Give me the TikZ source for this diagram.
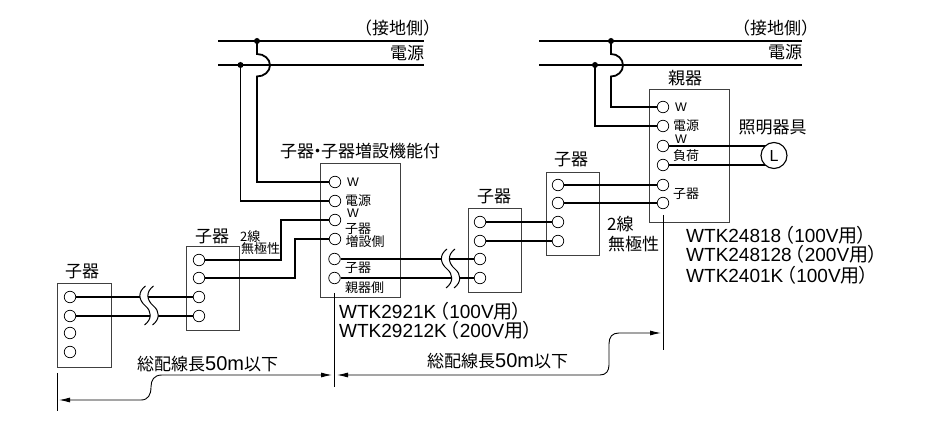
\documentclass[tikz,border=0pt]{standalone}
\usepackage{fontspec}
\setmainfont{Liberation Sans}
\newfontfamily\jp{Noto Sans CJK JP}
\usetikzlibrary{arrows.meta}
\tikzset{
	box/.style={rectangle,draw=black!75,line width=0.9,inner sep=0},
	term/.style={circle,draw,fill=white,line width=0.7,minimum size=11.5,inner sep=0},
	dotj/.style={circle,fill,minimum size=6,inner sep=0},
	wire/.style={line width=1.8},
	tick/.style={line width=0.9},
	dim/.style={line width=0.9,{Latex[length=11,width=5]}-{Latex[length=11,width=5]}},
	big/.style={inner sep=0,font=\jp\fontsize{17}{17}\selectfont},
	tiny/.style={inner sep=0,font=\jp\fontsize{13}{13}\selectfont},
	latin/.style={inner sep=0,font=\fontsize{12.5}{12.5}\selectfont},
	model/.style={inner sep=0,anchor=west,font=\fontsize{19}{19}\selectfont},
	wavegap/.pic={
		\fill[white] (0,0) .. controls (-8,6) and (-7,14) .. (0,20) .. controls (6,25) and (7,33) .. (-1,39)
			-- (7,39) .. controls (15,33) and (14,25) .. (8,20) .. controls (1,14) and (0,6) .. (8,0) -- cycle;
		\draw[line width=1] (0,0) .. controls (-8,6) and (-7,14) .. (0,20) .. controls (6,25) and (7,33) .. (-1,39);
		\draw[line width=1] (8,0) .. controls (0,6) and (1,14) .. (8,20) .. controls (14,25) and (15,33) .. (7,39);
	},
}
\begin{document}
\begin{tikzpicture}[x=1pt,y=-1pt]
	\useasboundingbox (0,0) rectangle (927,430);
	% boxes
	\node (koA) at (84,325) [box,minimum width=54,minimum height=84] {};
	\node (koB) at (212.5,288) [box,minimum width=53,minimum height=84] {};
	\node (zo) at (360,230) [box,minimum width=80,minimum height=134] {};
	\node (koC) at (494.5,250) [box,minimum width=53,minimum height=84] {};
	\node (koD) at (572.5,213.5) [box,minimum width=53,minimum height=83] {};
	\node (oya) at (689,155.5) [box,minimum width=80,minimum height=133] {};
	% terminals
	\node (a1) at (70,297) [term] {};
	\node (a2) at (70,316) [term] {};
	\node (a3) at (70,333) [term] {};
	\node (a4) at (70,352) [term] {};
	\node (b1) at (199,260) [term] {};
	\node (b2) at (199,278) [term] {};
	\node (b3) at (199,297) [term] {};
	\node (b4) at (199,316) [term] {};
	\node (z1) at (335,182) [term] {};
	\node (z2) at (335,201) [term] {};
	\node (z3) at (335,220) [term] {};
	\node (z4) at (335,239) [term] {};
	\node (z5) at (334.5,259) [term] {};
	\node (z6) at (334.5,278) [term] {};
	\node (c1) at (480,222) [term] {};
	\node (c2) at (480,241) [term] {};
	\node (c3) at (480,259) [term] {};
	\node (c4) at (480,278) [term] {};
	\node (d1) at (558,185) [term] {};
	\node (d2) at (558,203) [term] {};
	\node (d3) at (558,222) [term] {};
	\node (d4) at (558,241) [term] {};
	\node (o1) at (663,107) [term] {};
	\node (o2) at (663,126) [term] {};
	\node (o3) at (663,146) [term] {};
	\node (o4) at (663,165) [term] {};
	\node (o5) at (663,185) [term] {};
	\node (o6) at (663,203) [term] {};
	\coordinate (lampc) at (774,155.5);
	% power lines
	\coordinate (pa1) at (218,41);
	\coordinate (pa2) at (424,41);
	\coordinate (pb1) at (218,65);
	\coordinate (pb2) at (424,65);
	\coordinate (qa1) at (539,41);
	\coordinate (qa2) at (802,41);
	\coordinate (qb1) at (539,65);
	\coordinate (qb2) at (802,65);
	\node (ja) at (257,41) [dotj] {};
	\node (jb) at (240.5,65) [dotj] {};
	\node (ka) at (611,41) [dotj] {};
	\node (kb) at (595,65) [dotj] {};
	\draw[wire] (pa1) -- (pa2);
	\draw[wire] (pb1) -- (pb2);
	\draw[wire] (qa1) -- (qa2);
	\draw[wire] (qb1) -- (qb2);
	\draw[wire] (ja.center) -- ++(0,13) arc[start angle=-90,end angle=90,x radius=13,y radius=11.25] |- (z1);
	\draw[wire] (jb.center) |- (z2);
	\draw[wire] (ka.center) -- ++(0,13) arc[start angle=-90,end angle=90,x radius=12,y radius=11.25] |- (o1);
	\draw[wire] (kb.center) |- (o2);
	% wires
	\draw[wire] (a1) -- (b3);
	\draw[wire] (a2) -- (b4);
	\draw[wire] (b1) -| (281,220) -- (z3);
	\draw[wire] (b2) -| (295,239) -- (z4);
	\draw[wire] (z5) -- (c3);
	\draw[wire] (z6) -- (c4);
	\draw[wire] (c1) -- (d3);
	\draw[wire] (c2) -- (d4);
	\draw[wire] (d1) -- (o5);
	\draw[wire] (d2) -- (o6);
	\draw[wire] (o3) -- (o3 -| lampc);
	\draw[wire] (o4) -- (o4 -| lampc);
	\node (lamp) at (lampc) [circle,draw,fill=white,line width=1.1,minimum size=26,inner sep=0,font=\fontsize{16}{16}\selectfont] {L};
	\pic at (145.5,286) {wavegap};
	\pic at (447,249) {wavegap};
	% ticks and lengths
	\coordinate (ta1) at (57,373);
	\coordinate (ta2) at (57,411);
	\coordinate (tb1) at (334.7,293);
	\coordinate (tb2) at (334.7,387);
	\coordinate (tc1) at (663.7,215);
	\coordinate (tc2) at (663.7,350);
	\draw[tick] (ta1) -- (ta2);
	\draw[tick] (tb1) -- (tb2);
	\draw[tick] (tc1) -- (tc2);
	\coordinate (ra) at (332,375);
	\coordinate (rb) at (59,400);
	\coordinate (sa) at (337,375);
	\coordinate (sb) at (661,333);
	\draw[dim] (ra) -- (162,375) .. controls (154,375) and (151,380) .. (151,387) .. controls (151,395) and (148,400) .. (141,400) -- (rb);
	\draw[dim] (sa) -- (600,375) .. controls (606,375) and (609,371) .. (609,365) -- (609,344) .. controls (609,337) and (612,333) .. (619,333) -- (sb);
	% labels
	\node (gnda) at (397.5,28) [big] {（接地側）};
	\node (pwra) at (407,53) [big] {電源};
	\node (gndb) at (775.5,28) [big] {（接地側）};
	\node (pwrb) at (785,52) [big] {電源};
	\node (tzo) at (360,151) [big] {子器\kern-5pt・\kern-5pt子器増設機能付};
	\node (toya) at (685,78) [big] {親器};
	\node (tlamp) at (772.5,127) [big] {照明器具};
	\node (tkoA) at (82,271) [big] {子器};
	\node (tkoB) at (212,236) [big] {子器};
	\node (tkoC) at (494,196) [big] {子器};
	\node (tkoD) at (571,159) [big] {子器};
	\node (tp1) at (240,237) [anchor=west,tiny] {2線};
	\node (tp2) at (241,249) [anchor=west,tiny] {無極性};
	\node (tq1) at (607,224) [anchor=west,big] {2線};
	\node (tq2) at (608,244) [anchor=west,big] {無極性};
	\node (lz1) at (353,182) [latin] {W};
	\node (lz2) at (345,200.5) [anchor=west,tiny] {電源};
	\node (lz3) at (353,213) [latin] {W};
	\node (lz4) at (345,229) [anchor=west,tiny] {子器};
	\node (lz5) at (345.5,242) [anchor=west,tiny] {増設側};
	\node (lz6) at (345,268) [anchor=west,tiny] {子器};
	\node (lz7) at (345,288) [anchor=west,tiny] {親器側};
	\node (lo1) at (681,107) [latin] {W};
	\node (lo2) at (673,126) [anchor=west,tiny] {電源};
	\node (lo3) at (681,139) [latin] {W};
	\node (lo4) at (673,156) [anchor=west,tiny] {負荷};
	\node (lo5) at (673,194) [anchor=west,tiny] {子器};
	\node (ma) at (339,311) [model] {WTK2921K{\jp\kern-6pt（}100V{\jp 用\kern-1pt）}};
	\node (mb) at (339,330) [model] {WTK29212K{\jp\kern-6pt（}200V{\jp 用\kern-1pt）}};
	\node (mc) at (686,235) [model] {WTK24818{\jp\kern-6pt（}100V{\jp 用\kern-1pt）}};
	\node (md) at (686,254) [model] {WTK248128{\jp\kern-6pt（}200V{\jp 用\kern-1pt）}};
	\node (me) at (686,275) [model] {WTK2401K{\jp\kern-6pt（}100V{\jp 用\kern-1pt）}};
	\node (la) at (137,364) [anchor=west,big] {総配線長{\fontspec{Liberation Sans}\fontsize{20}{20}\selectfont 50m}以下};
	\node (lb) at (427,361) [anchor=west,big] {総配線長{\fontspec{Liberation Sans}\fontsize{20}{20}\selectfont 50m}以下};
\end{tikzpicture}
\end{document}
